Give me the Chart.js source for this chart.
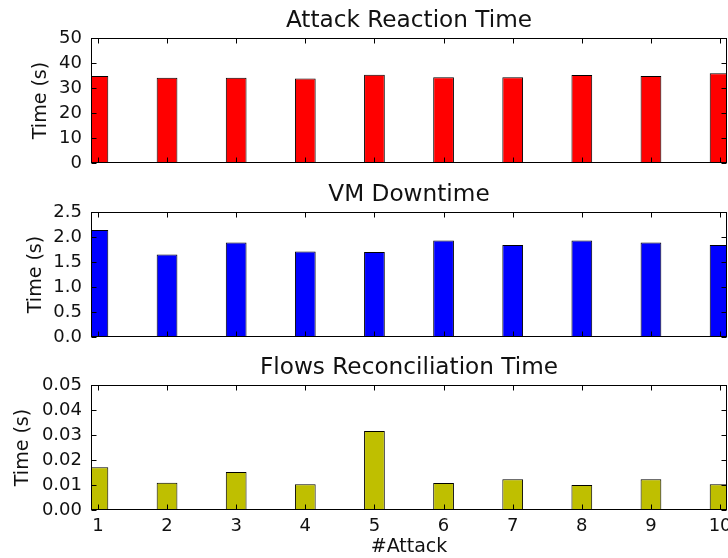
<!DOCTYPE html>
<html>
<head>
<meta charset="utf-8">
<script src="https://cdn.jsdelivr.net/npm/chart.js@4.4.1/dist/chart.umd.min.js"></script>
<style>
  html, body { margin: 0; padding: 0; background: #fff; }
  #wrap { position: relative; width: 728px; height: 558px; overflow: hidden; }
  canvas { position: absolute; left: 0; }
</style>
</head>
<body>
<div id="wrap">
  <canvas id="cReact" width="728" height="174" style="top:0px"></canvas>
  <canvas id="cDown" width="728" height="174" style="top:174px"></canvas>
  <canvas id="cFlow" width="728" height="211" style="top:347px"></canvas>
</div>
<script>
// ---- data ----
const attacks       = [1, 2, 3, 4, 5, 6, 7, 8, 9, 10];
const reactionTime  = [34.8, 34.1, 34.1, 33.8, 35.3, 34.3, 34.3, 35.2, 34.8, 35.9];
const vmDowntime    = [2.14, 1.65, 1.89, 1.71, 1.70, 1.93, 1.84, 1.93, 1.89, 1.84];
const flowsTime     = [0.0171, 0.0109, 0.0152, 0.0103, 0.0316, 0.0108, 0.0123, 0.0100, 0.0123, 0.0103];

const reactionTicks = [0, 10, 20, 30, 40, 50];
const downtimeTicks = [0, 0.5, 1.0, 1.5, 2.0, 2.5];
const flowsTicks    = [0, 0.01, 0.02, 0.03, 0.04, 0.05];

Chart.defaults.font.family = 'DejaVu Sans';
Chart.defaults.color = '#111';

// ---- matplotlib-style frame with inward ticks on all four sides ----
const frameTicks = {
  id: 'frameTicks',
  afterDatasetsDraw(chart) {
    const { ctx, chartArea: a, scales: { x, y } } = chart;
    const L = Math.round(a.left) + 0.5, R = Math.round(a.right) - 0.5;
    const T = Math.round(a.top) + 0.5, B = Math.round(a.bottom) - 0.5;
    const len = 5;
    ctx.save();
    ctx.strokeStyle = '#000';
    ctx.lineWidth = 1;
    ctx.strokeRect(L, T, R - L, B - T);
    ctx.beginPath();
    attacks.forEach(v => {
      const px = Math.round(x.getPixelForValue(v)) + 0.5;
      ctx.moveTo(px, B); ctx.lineTo(px, B - len);
      ctx.moveTo(px, T); ctx.lineTo(px, T + len);
    });
    y.ticks.forEach(t => {
      const py = Math.round(y.getPixelForValue(t.value)) + 0.5;
      ctx.moveTo(L, py); ctx.lineTo(L + len, py);
      ctx.moveTo(R, py); ctx.lineTo(R - len, py);
    });
    ctx.stroke();
    ctx.restore();
  }
};

function makePanel(id, title, values, color, yTicks, decimals, labelPad, isBottom) {
  return new Chart(document.getElementById(id).getContext('2d'), {
    type: 'bar',
    data: {
      datasets: [{
        data: attacks.map((a, i) => ({ x: a, y: values[i] })),
        backgroundColor: color,
        borderColor: '#000',
        borderWidth: 1,
        borderSkipped: 'start',
        barPercentage: 0.3,
        categoryPercentage: 1
      }]
    },
    options: {
      responsive: false,
      animation: false,
      layout: { padding: { left: 0, right: 1, top: 0, bottom: isBottom ? 0 : 11 } },
      plugins: {
        legend: { display: false },
        tooltip: { enabled: false },
        title: {
          display: true, text: title, color: '#111', fullSize: false,
          font: { size: 23.2, weight: 'normal' },
          padding: { top: 7.4, bottom: 2.8 }
        }
      },
      scales: {
        x: {
          type: 'linear', min: 0.9, max: 10.1, offset: false,
          display: isBottom,
          grid: { display: false, drawTicks: false },
          border: { display: false },
          afterBuildTicks: s => { s.ticks = attacks.map(v => ({ value: v })); },
          afterFit: s => {
            s.paddingLeft = 0; s.paddingRight = 0;
            if (isBottom) s.height = 48;
          },
          ticks: { font: { size: 18 }, padding: 6, color: '#111', maxRotation: 0, autoSkip: false },
          title: { display: true, text: '#Attack', font: { size: 19 }, color: '#111', padding: { top: 0, bottom: 0 } }
        },
        y: {
          min: yTicks[0], max: yTicks[yTicks.length - 1],
          grid: { display: false, drawTicks: false },
          border: { display: false },
          afterBuildTicks: s => { s.ticks = yTicks.map(v => ({ value: v })); },
          afterFit: s => { s.width = 91; s.paddingTop = 0; s.paddingBottom = 0; },
          ticks: { font: { size: 18 }, padding: 9, color: '#111', autoSkip: false, callback: v => v.toFixed(decimals) },
          title: { display: true, text: 'Time (s)', font: { size: 19 }, color: '#111', padding: { top: labelPad, bottom: 0 } }
        }
      }
    },
    plugins: [frameTicks]
  });
}

makePanel('cReact', 'Attack Reaction Time', reactionTime, '#ff0000', reactionTicks, 0, 30, false);
makePanel('cDown', 'VM Downtime', vmDowntime, '#0000ff', downtimeTicks, 1, 25, false);
makePanel('cFlow', 'Flows Reconciliation Time', flowsTime, '#bfbf00', flowsTicks, 2, 12, true);
</script>
</body>
</html>
